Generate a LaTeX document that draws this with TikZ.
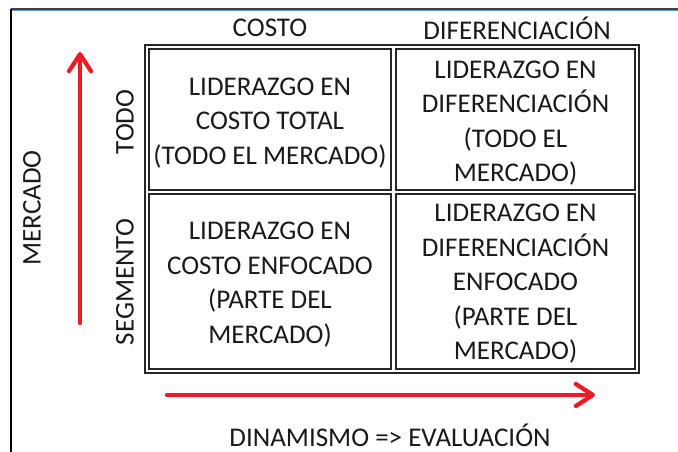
\documentclass[tikz,border=0pt]{standalone}
\usepackage{fontspec}
\setmainfont{Carlito}
\usetikzlibrary{arrows.meta,fit}
\definecolor{arrowred}{RGB}{237,28,36}
\definecolor{gridline}{RGB}{38,38,38}
\definecolor{txt}{RGB}{26,26,26}
\definecolor{frameblue}{RGB}{91,155,213}
\definecolor{framegrey}{RGB}{64,64,64}
\tikzset{
  cell/.style={draw=gridline, line width=1.6pt, outer sep=0pt, inner sep=0pt},
  celltext/.style={align=center, text=txt, inner sep=0pt, font=\fontsize{27}{34.5}\selectfont},
  label/.style={text=txt, font=\fontsize{27}{30}\selectfont, inner sep=0pt},
  redarrow/.style={draw=arrowred, line width=4.3pt, line cap=round,
    -{Straight Barb[length=17pt,width=22pt,line join=round,line cap=round]}},
}
\begin{document}
\begin{tikzpicture}[x=1pt,y=-1pt]
\useasboundingbox (0,0) rectangle (678,452);
% frame
\coordinate (ftl) at (11,9);
\coordinate (ftr) at (678,9);
\coordinate (fbl) at (11,452);
\draw[framegrey, line width=1.8pt] (ftl) -- (ftr);
\draw[frameblue, line width=1pt] ([yshift=-1.6pt]ftl) -- ([yshift=-1.6pt]ftr);
\draw[black, line width=1.4pt] (ftl) -- (fbl);
% cells
\node[cell, minimum width=242pt, minimum height=141pt] (tl) at (270,119.5) {};
\node[cell, minimum width=239pt, minimum height=141pt] (tr) at (515.5,119.5) {};
\node[cell, minimum width=242pt, minimum height=175pt] (bl) at (270,281.5) {};
\node[cell, minimum width=239pt, minimum height=175pt] (br) at (515.5,281.5) {};
\node[draw=gridline, line width=1.6pt, outer sep=0pt, inner sep=4pt, fit=(tl)(br)] (grid) {};
\node[celltext] (tltext) at ([yshift=-3.5pt]tl.center)
  {LIDERAZGO EN\\COSTO TOTAL\\(TODO EL MERCADO)};
\node[celltext] (trtext) at ([yshift=-3.5pt]tr.center)
  {LIDERAZGO EN\\DIFERENCIACIÓN\\(TODO EL\\MERCADO)};
\node[celltext] (bltext) at ([yshift=-3pt]bl.center)
  {LIDERAZGO EN\\COSTO ENFOCADO\\(PARTE DEL\\MERCADO)};
\node[celltext] (brtext) at ([yshift=-2.5pt]br.center)
  {LIDERAZGO EN\\DIFERENCIACIÓN\\ENFOCADO\\(PARTE DEL\\MERCADO)};
% headers
\node[label] (hcosto) at (270,28) {COSTO};
\node[label] (hdif) at (517,28) {DIFERENCIACIÓN};
\node[label, rotate=90] (htodo) at (125,122) {TODO};
\node[label, rotate=90] (hseg) at (125,282) {SEGMENTO};
\node[label, rotate=90] (hmerc) at (32,208) {MERCADO};
\node[label] (hdin) at (390,435) {DINAMISMO => EVALUACIÓN};
% arrows
\coordinate (vs) at (80,323);
\coordinate (ve) at (80,52);
\coordinate (hs) at (167,395);
\coordinate (he) at (595,395);
\draw[redarrow] (vs) -- (ve);
\draw[redarrow] (hs) -- (he);
\end{tikzpicture}
\end{document}
